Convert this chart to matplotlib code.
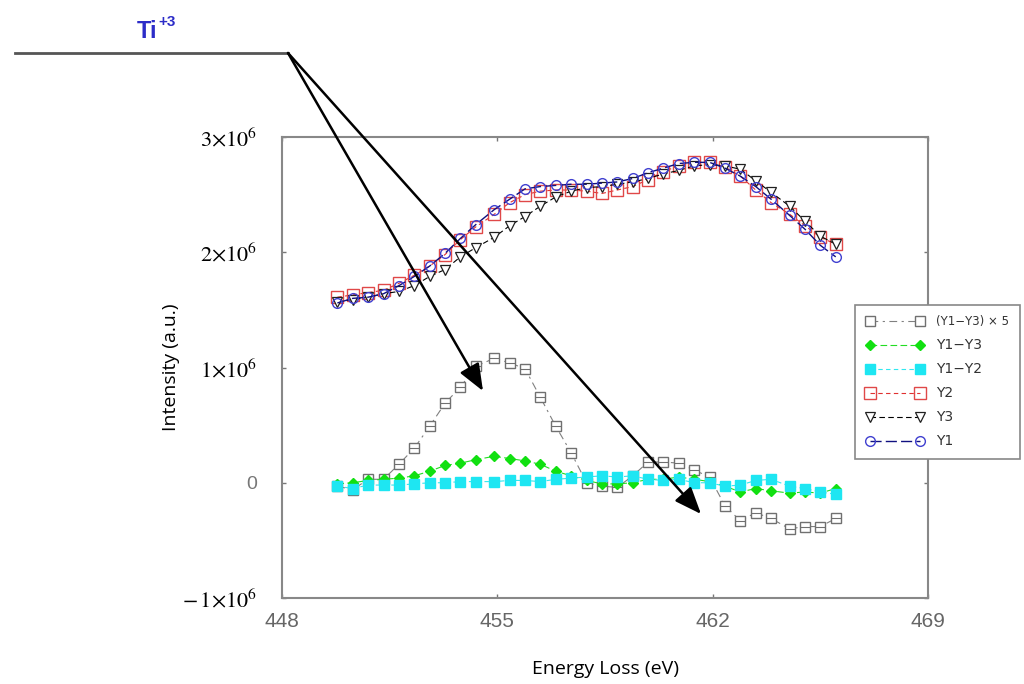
import matplotlib
matplotlib.use("Agg")
import matplotlib.pyplot as plt
import numpy as np

# energy loss (eV) and intensities (x 1e6)
energy = [449.8, 450.3, 450.8, 451.3, 451.8, 452.3, 452.8, 453.3, 453.8, 454.3,
          454.9, 455.4, 455.9, 456.4, 456.9, 457.4, 457.9, 458.4, 458.9, 459.4,
          459.9, 460.4, 460.9, 461.4, 461.9, 462.4, 462.9, 463.4, 463.9, 464.5,
          465.0, 465.5, 466.0]
y1 = [1.56, 1.60, 1.61, 1.64, 1.71, 1.79, 1.88, 1.99, 2.12, 2.24,
      2.37, 2.46, 2.55, 2.57, 2.58, 2.59, 2.59, 2.60, 2.61, 2.64,
      2.69, 2.73, 2.77, 2.78, 2.78, 2.73, 2.66, 2.57, 2.46, 2.32,
      2.20, 2.06, 1.96]
y2 = [1.61, 1.63, 1.65, 1.67, 1.73, 1.80, 1.88, 1.98, 2.11, 2.22,
      2.33, 2.43, 2.50, 2.53, 2.54, 2.54, 2.53, 2.51, 2.54, 2.57,
      2.63, 2.70, 2.75, 2.78, 2.78, 2.74, 2.66, 2.54, 2.43, 2.33,
      2.23, 2.13, 2.07]
y3 = [1.57, 1.59, 1.61, 1.64, 1.66, 1.71, 1.79, 1.85, 1.96, 2.04,
      2.13, 2.23, 2.31, 2.40, 2.48, 2.53, 2.56, 2.57, 2.59, 2.61,
      2.64, 2.68, 2.71, 2.75, 2.76, 2.75, 2.72, 2.62, 2.52, 2.40,
      2.27, 2.14, 2.07]
d13 = [-0.01, 0.00, 0.02, 0.03, 0.04, 0.06, 0.10, 0.15, 0.17, 0.20,
       0.23, 0.21, 0.19, 0.16, 0.10, 0.06, 0.02, -0.01, -0.01, 0.00,
       0.03, 0.03, 0.05, 0.03, 0.01, -0.03, -0.08, -0.05, -0.07, -0.09,
       -0.08, -0.09, -0.05]
d12 = [-0.03, -0.05, -0.02, -0.02, -0.02, -0.01, 0.00, 0.00, 0.01, 0.01,
       0.01, 0.02, 0.02, 0.01, 0.03, 0.04, 0.05, 0.06, 0.05, 0.06,
       0.03, 0.02, 0.03, 0.00, 0.00, -0.03, -0.02, 0.02, 0.03, -0.03,
       -0.05, -0.08, -0.10]
d13x5 = [-0.03, -0.06, 0.03, 0.03, 0.16, 0.30, 0.49, 0.69, 0.83, 1.01,
         1.08, 1.04, 0.99, 0.74, 0.49, 0.26, 0.00, -0.03, -0.04, 0.06,
         0.18, 0.18, 0.17, 0.11, 0.05, -0.20, -0.33, -0.26, -0.31, -0.40,
         -0.38, -0.38, -0.31]

xticks = [448, 455, 462, 469]
yticks = [-1e6, 0, 1e6, 2e6, 3e6]
ytick_labels = [r'$-\,1{\times}10^6$', '0', r'$1{\times}10^6$', r'$2{\times}10^6$', r'$3{\times}10^6$']

plt.rcParams['mathtext.fontset'] = 'stix'

W, H = 1024, 684
fig = plt.figure(figsize=(W / 100, H / 100), dpi=100)
ax = fig.add_axes([282 / W, 1 - 598 / H, (928 - 282) / W, (598 - 137) / H])

def px(x, y):
    return (x / W, 1 - y / H)

e = np.array(energy)
s = 1e6
h_gray, = ax.plot(e, np.array(d13x5) * s, color='#808080', lw=0.8, ls=(0, (7, 4, 2, 4)),
                  marker='s', ms=7, mfc='white', mec='#707070', mew=1.0,
                  label='(Y1\u2212Y3) \u00d7 5')
# the horizontal stroke inside the gray squares
ax.plot(e, np.array(d13x5) * s, ls='none', marker='_', ms=7, mec='#707070', mew=0.8)
h_g, = ax.plot(e, np.array(d13) * s, color='#22dd22', lw=0.8, ls=(0, (6, 3)),
               marker='D', ms=5.5, mfc='#11e011', mec='#11e011', label='Y1\u2212Y3')
h_c, = ax.plot(e, np.array(d12) * s, color='#30e8f0', lw=0.8, ls=(0, (4, 3)),
               marker='s', ms=7, mfc='#1ee6f2', mec='#1ee6f2', label='Y1\u2212Y2')
h_y2, = ax.plot(e, np.array(y2) * s, color='#e03030', lw=0.8, ls=(0, (4, 3)),
                marker='s', ms=8, mfc='none', mec='#e04848', mew=1.0, label='Y2')
h_y3, = ax.plot(e, np.array(y3) * s, color='black', lw=0.8, ls=(0, (5, 3)),
                marker='v', ms=7.5, mfc='white', mec='#202020', mew=0.9, label='Y3')
h_y1, = ax.plot(e, np.array(y1) * s, color='#101080', lw=1.0, ls=(0, (8, 3)),
                marker='o', ms=7, mfc='none', mec='#4040d0', mew=1.0, label='Y1')

ax.set_xlim(448, 469)
ax.set_ylim(-1e6, 3e6)
ax.set_xticks(xticks)
ax.set_xticklabels([str(t) for t in xticks], family=['Liberation Sans Narrow', 'Liberation Sans'],
                   fontsize=15, color='#666666')
ax.set_yticks(yticks)
ax.set_yticklabels(ytick_labels, fontsize=16)
for lab in ax.get_yticklabels():
    if lab.get_text() == '0':
        lab.set_color('#777777')
        lab.set_family('Liberation Sans')
        lab.set_fontsize(14)
ax.tick_params(direction='in', length=3, width=1, color='#777777',
               top=True, right=True, pad=10)
ax.tick_params(axis='y', pad=18)
for sp in ax.spines.values():
    sp.set_color('#888888')
    sp.set_linewidth(1.5)

ax.set_xlabel('Energy Loss (eV)', family='Open Sans', fontsize=14)
ax.xaxis.set_label_coords(0.5, -0.135)
ax.set_ylabel('Intensity (a.u.)', family='Open Sans', fontsize=14)
ax.yaxis.set_label_coords(-0.158, 0.5)

leg = fig.legend(handles=[h_gray, h_g, h_c, h_y2, h_y3, h_y1], loc='upper left',
                 bbox_to_anchor=px(855, 305), numpoints=2, handlelength=4.2,
                 fontsize=10, frameon=True, fancybox=False, borderpad=0.75,
                 labelspacing=0.72, handletextpad=0.9, borderaxespad=0)
leg.get_frame().set_edgecolor('#888888')
leg.get_frame().set_linewidth(1.2)
leg.get_frame().set_alpha(1)
leg.get_texts()[0].set_fontsize(8.5)
for t in leg.get_texts():
    t.set_color('#333333')

# Ti+3 annotation with the leader line and two arrows
fig.text(*px(137, 31), 'Ti', family='Liberation Sans', fontweight='bold',
         fontsize=17, color='#2c2cc8', va='center', ha='left')
fig.text(*px(158, 22), '+3', family='Liberation Sans', fontweight='bold',
         fontsize=11, color='#2c2cc8', va='center', ha='left')
fig.add_artist(plt.Line2D([15 / W, 288 / W], [1 - 53 / H, 1 - 53 / H],
                          color='#555555', lw=2.0))
for tip in [(483, 391), (701, 514)]:
    fig.add_artist(matplotlib.patches.FancyArrowPatch(
        px(288, 53), px(*tip), transform=fig.transFigure,
        arrowstyle='-|>,head_length=0.55,head_width=0.22', mutation_scale=30,
        color='black', lw=1.8, shrinkA=0, shrinkB=0, zorder=10))

fig.savefig('out.png', dpi=100)
